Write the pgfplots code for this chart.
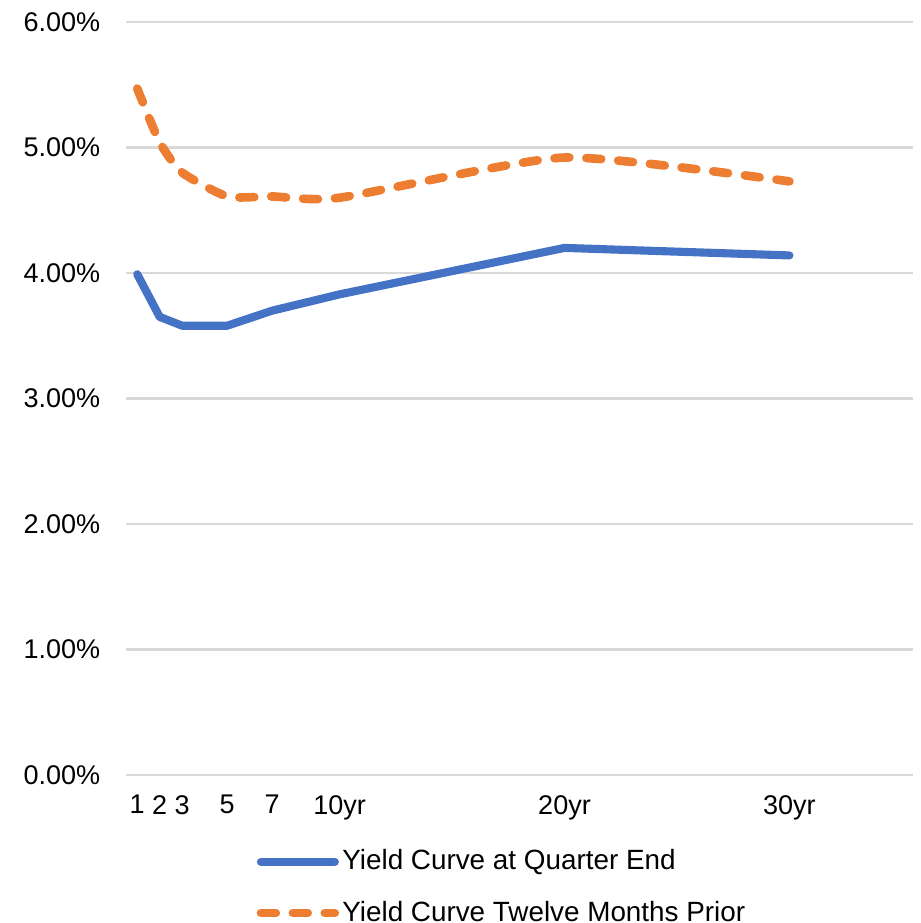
\documentclass[border=0pt]{standalone}
\usepackage{pgfplots}
\pgfplotsset{compat=1.18}
\usepackage{fontspec}
\setmainfont{Liberation Sans}
\definecolor{xlblue}{HTML}{4472C4}
\definecolor{xlorange}{HTML}{ED7D31}
\definecolor{gridgray}{HTML}{D9D9D9}
\begin{document}
\fontsize{10}{12}\selectfont
\begin{tikzpicture}
\begin{axis}[
    scale only axis,
    width=291.2pt, height=278.6pt,
    xmin=0.5, xmax=35.5,
    ymin=0, ymax=6,
    axis line style={draw=none},
    ymajorgrids,
    grid style={gridgray, line width=0.8pt},
    major tick length=0pt,
    ytick={0,1,2,3,4,5,6},
    yticklabels={0.00\%,1.00\%,2.00\%,3.00\%,4.00\%,5.00\%,6.00\%},
    yticklabel style={xshift=-6pt},
    xtick={1,2,3,5,7,10,20,30},
    xticklabels={1,2,3,5,7,10yr,20yr,30yr},
    xticklabel style={yshift=-4pt},
    /pgf/number format/assume math mode=true,
    legend cell align=left,
    legend style={at={(rel axis cs:0.155,-0.084)}, anchor=north west,
        draw=none, fill=none, row sep=6pt,
        nodes={inner xsep=1.2pt},
        font=\fontsize{10.3}{12}\selectfont},
    legend image code/.code={
        \draw[#1] (0cm,0cm) -- (0.96cm,0cm);
    },
]
\addplot[xlblue, line width=3pt, line cap=round, line join=round] coordinates {
    (1,3.99) (2,3.65) (3,3.58) (5,3.58) (7,3.70) (10,3.83) (20,4.20) (30,4.14)
};
\addlegendentry{Yield Curve at Quarter End}
\addplot[xlorange, line width=3.2pt, line cap=round, smooth, tension=0.35,
    dash pattern=on 5.5pt off 6.3pt] coordinates {
    (1,5.47) (2,5.04) (3,4.80) (5,4.61) (7,4.61) (10,4.60) (20,4.92) (30,4.73)
};
\addlegendentry{Yield Curve Twelve Months Prior}
\coordinate (BL) at (rel axis cs:-0.1601,-0.1965);
\coordinate (TR) at (rel axis cs:1.0089,1.0292);
\end{axis}
\pgfresetboundingbox
\useasboundingbox (BL) rectangle (TR);
\end{tikzpicture}
\end{document}
